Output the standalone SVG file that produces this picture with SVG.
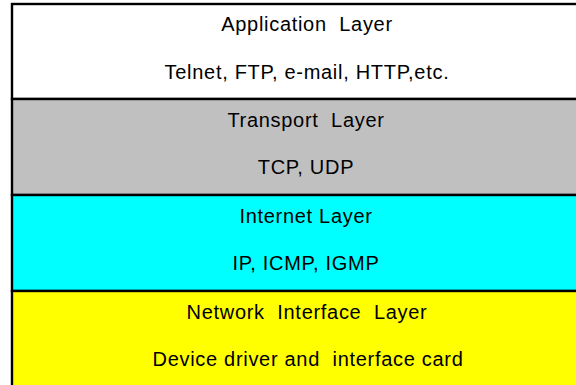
<svg xmlns="http://www.w3.org/2000/svg" width="576" height="385" viewBox="0 0 576 385">
<style>
.layer{stroke:#000;stroke-width:2.4}
.t{font-family:"Liberation Sans",Arial,sans-serif;font-size:20px;fill:#000;text-anchor:middle;white-space:pre;letter-spacing:0.7px}
</style>
<rect width="576" height="385" fill="#fff"/>
<g id="application">
<rect class="layer" x="12" y="4" width="600" height="95" fill="#ffffff"/>
<text class="t" x="307" y="31">Application  Layer</text>
<text class="t" x="307" y="79">Telnet, FTP, e-mail, HTTP,etc.</text>
</g>
<g id="transport">
<rect class="layer" x="12" y="99" width="600" height="96" fill="#c0c0c0"/>
<text class="t" x="306" y="127">Transport  Layer</text>
<text class="t" x="306" y="174">TCP, UDP</text>
</g>
<g id="internet">
<rect class="layer" x="12" y="195" width="600" height="96" fill="#00ffff"/>
<text class="t" x="306" y="223">Internet Layer</text>
<text class="t" x="306" y="270">IP, ICMP, IGMP</text>
</g>
<g id="network">
<rect class="layer" x="12" y="291" width="600" height="110" fill="#ffff00"/>
<text class="t" x="307" y="319">Network  Interface  Layer</text>
<text class="t" x="308" y="366">Device driver and  interface card</text>
</g>
<g id="connectors"></g>
</svg>
